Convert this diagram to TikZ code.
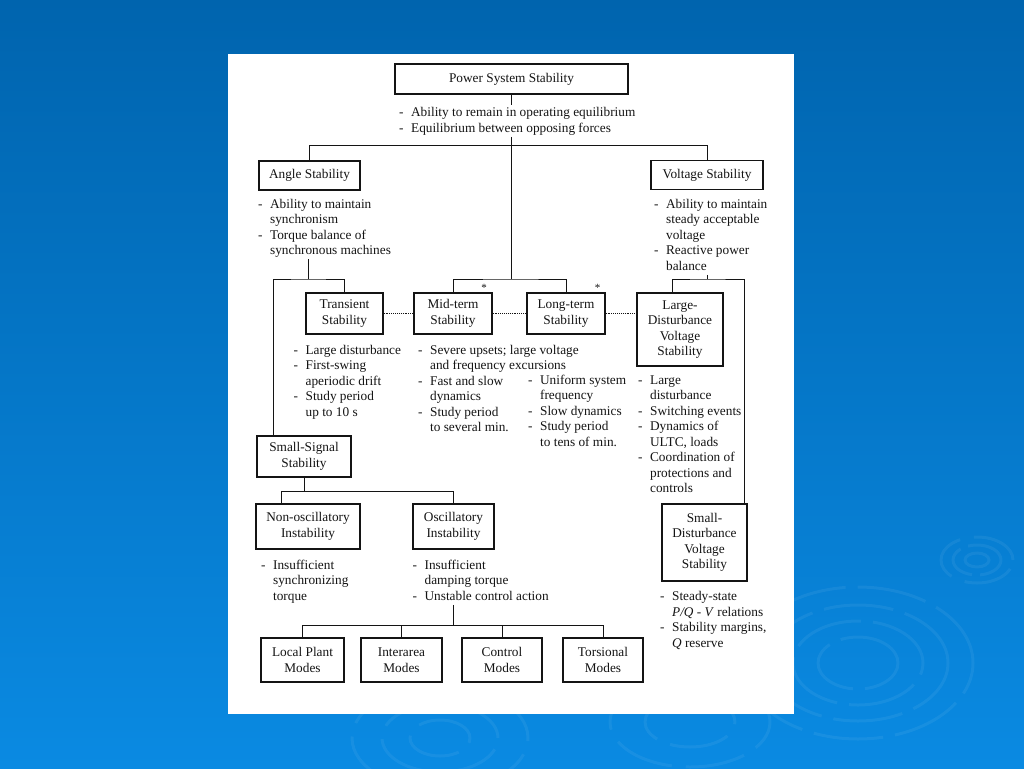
\documentclass[tikz,border=0pt]{standalone}
\usepackage{fontspec}
\setmainfont{Liberation Serif}
\definecolor{bgtop}{HTML}{0064AE}
\definecolor{bgbot}{HTML}{0A8AE2}
\definecolor{ink}{HTML}{141414}
\newcommand{\diagfont}{\fontsize{13.3}{15.5}\selectfont}
\newcommand{\dlist}[1]{\begin{tabular}[t]{@{}l@{\hspace{7.5pt}}l@{}}#1\end{tabular}}
\tikzset{
    box/.style={draw=ink, line width=1.2pt, fill=white, align=center, inner sep=0pt, text=ink, font=\diagfont},
    note/.style={anchor=base west, inner sep=0pt, text=ink, font=\diagfont},
    wire/.style={draw=ink, line width=0.9pt},
    ripple/.style={white, opacity=0.06, line width=3pt},
    star/.style={inner sep=0pt, text=ink, font=\fontsize{11}{11}\selectfont}
}
\begin{document}
\begin{tikzpicture}[x=1pt, y=-1pt]
            \useasboundingbox (0,0) rectangle (1024,768);
            \shade[top color=bgtop, bottom color=bgbot] (0,0) rectangle (1024,768);
            \draw[ripple] (977,560) ellipse [x radius=12pt, y radius=7pt];
            \draw[ripple, dash pattern=on 40pt off 8pt] (977,560) ellipse [x radius=24pt, y radius=15pt];
            \draw[ripple, dash pattern=on 50pt off 14pt] (977,560) ellipse [x radius=36pt, y radius=23pt];
            \foreach \rx/\ry in {40/26, 65/42, 90/58, 115/76}
                \draw[ripple, dash pattern=on 70pt off 12pt] (858,663) ellipse [x radius=\rx pt, y radius=\ry pt];
            \foreach \rx/\ry in {30/18, 58/34, 88/52}
                \draw[ripple, dash pattern=on 60pt off 14pt] (440,738) ellipse [x radius=\rx pt, y radius=\ry pt];
            \foreach \rx/\ry in {45/25, 80/45}
                \draw[ripple, dash pattern=on 60pt off 14pt] (690,722) ellipse [x radius=\rx pt, y radius=\ry pt];
            \fill[white] (228,54) rectangle (794,714);

            \node[box, minimum width=233pt, minimum height=30pt] (pss) at (511.5,79) {Power System Stability};
            \node[note] (pssnote) at (399,116.5) {\dlist{- & Ability to remain in operating equilibrium\\ - & Equilibrium between opposing forces}};
            \node[box, minimum width=101pt, minimum height=29pt] (angle) at (309.5,175.5) {Angle Stability};
            \node[box, minimum width=112pt, minimum height=29pt] (volt) at (707,175) {Voltage Stability};
            \node[note] (anglenote) at (258,208) {\dlist{- & Ability to maintain\\ & synchronism\\ - & Torque balance of\\ & synchronous machines}};
            \node[note] (voltnote) at (654,208) {\dlist{- & Ability to maintain\\ & steady acceptable\\ & voltage\\ - & Reactive power\\ & balance}};

            \node[box, minimum width=77pt, minimum height=41pt] (trans) at (344.5,313.5) {Transient\\Stability};
            \node[box, minimum width=78pt, minimum height=41pt] (mid) at (453,313.5) {Mid-term\\Stability};
            \node[box, minimum width=78pt, minimum height=41pt] (long) at (566,313.5) {Long-term\\Stability};
            \node[box, minimum width=86pt, minimum height=73pt] (ldvs) at (680,329.5) {Large-\\Disturbance\\Voltage\\Stability};
            \node[star] (midstar) at (484,288) {*};
            \node[star] (longstar) at (597.5,288) {*};
            \node[note] (transnote) at (293.5,354) {\dlist{- & Large disturbance\\ - & First-swing\\ & aperiodic drift\\ - & Study period\\ & up to 10 s}};
            \node[note] (midnote) at (418,354) {\dlist{- & Severe upsets; large voltage\\ & and frequency excursions\\ - & Fast and slow\\ & dynamics\\ - & Study period\\ & to several min.}};
            \node[note] (longnote) at (528,384) {\dlist{- & Uniform system\\ & frequency\\ - & Slow dynamics\\ - & Study period\\ & to tens of min.}};
            \node[note] (ldvsnote) at (638,384) {\dlist{- & Large\\ & disturbance\\ - & Switching events\\ - & Dynamics of\\ & ULTC, loads\\ - & Coordination of\\ & protections and\\ & controls}};

            \node[box, minimum width=94pt, minimum height=41pt] (sss) at (304,456.5) {Small-Signal\\Stability};
            \node[box, minimum width=104pt, minimum height=45pt] (nonosc) at (308,526.5) {Non-oscillatory\\Instability};
            \node[box, minimum width=81pt, minimum height=45pt] (osc) at (453.5,526.5) {Oscillatory\\Instability};
            \node[box, minimum width=85pt, minimum height=77pt] (sdvs) at (704.5,542.5) {Small-\\Disturbance\\Voltage\\Stability};
            \node[note] (nonoscnote) at (261,569) {\dlist{- & Insufficient\\ & synchronizing\\ & torque}};
            \node[note] (oscnote) at (412.5,569) {\dlist{- & Insufficient\\ & damping torque\\ - & Unstable control action}};
            \node[note] (sdvsnote) at (660,600.5) {\dlist{- & Steady-state\\ & \textit{P/Q} - \textit{V} relations\\ - & Stability margins,\\ & \textit{Q} reserve}};

            \node[box, minimum width=83pt, minimum height=44pt] (local) at (302.5,660) {Local Plant\\Modes};
            \node[box, minimum width=81pt, minimum height=44pt] (inter) at (401.5,660) {Interarea\\Modes};
            \node[box, minimum width=80pt, minimum height=44pt] (ctrl) at (502,660) {Control\\Modes};
            \node[box, minimum width=80pt, minimum height=44pt] (tors) at (603,660) {Torsional\\Modes};

            \coordinate (topbar) at (511.5,145.7);
            \coordinate (midbar) at (511.5,279);
            \coordinate (anglebar) at (308,279);
            \coordinate (voltbar) at (707,279);
            \coordinate (sssbar) at (304,491.7);
            \coordinate (modebar) at (453.5,625.7);

            \draw[wire] (pss) -- (pss.south |- pssnote.north);
            \draw[wire] (pssnote.south -| pss.south) -- (midbar);
            \draw[wire] (angle.north) |- (topbar) -| (volt.north);
            \draw[wire] (mid.north) |- (midbar) -| (long.north);
            \draw[wire] (anglenote.south -| anglebar) -- (anglebar);
            \draw[wire] (273,0 |- sss.north) |- (anglebar) -| (trans.north);
            \draw[wire] (voltnote.south -| voltbar) -- (voltbar);
            \draw[wire] (672,0 |- ldvs.north) |- (voltbar) -| (744.5,0 |- sdvs.north);
            \draw[wire, densely dotted, line width=0.7pt] (trans) -- (mid);
            \draw[wire, densely dotted, line width=0.7pt] (mid) -- (long);
            \draw[wire, densely dotted, line width=0.7pt] (long.east) -- (long.east -| ldvs.west);
            \draw[wire] (sss) -- (sss.south |- sssbar);
            \draw[wire] (281,0 |- nonosc.north) |- (sssbar) -| (osc.north);
            \draw[wire] (oscnote.south -| modebar) -- (modebar);
            \draw[wire] (local.north) |- (modebar) -| (tors.north);
            \draw[wire] (inter.north) -- (inter.north |- modebar);
            \draw[wire] (ctrl.north) -- (ctrl.north |- modebar);
\end{tikzpicture}
\end{document}
